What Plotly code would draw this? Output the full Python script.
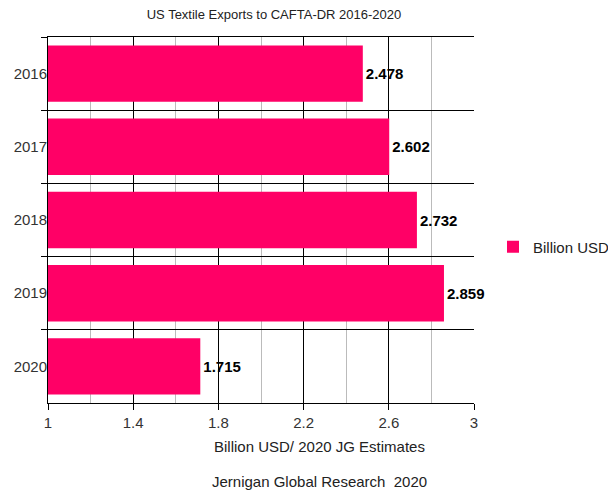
import plotly.graph_objects as go

years = ["2016", "2017", "2018", "2019", "2020"]
exports = [2.478, 2.602, 2.732, 2.859, 1.715]
x_ticks = [1, 1.4, 1.8, 2.2, 2.6, 3]

W, H = 608, 490
L, R, T, B = 48, 134, 37, 87
FONT = "Liberation Sans, Arial, sans-serif"

fig = go.Figure(
    go.Bar(
        y=years,
        x=exports,
        orientation="h",
        name="Billion USD",
        marker=dict(color="#FF0066", line=dict(width=0)),
        width=0.77,
        text=exports,
        texttemplate="<b>%{x}</b>",
        textposition="outside",
        textfont=dict(family=FONT, size=15, color="#000000"),
        cliponaxis=False,
    )
)

fig.update_layout(
    width=W,
    height=H,
    margin=dict(l=L, r=R, t=T, b=B, autoexpand=False),
    paper_bgcolor="white",
    plot_bgcolor="white",
    font=dict(family=FONT, size=15, color="#333333"),
    title=dict(
        text="US Textile Exports to CAFTA-DR 2016-2020",
        x=274 / W,
        xanchor="center",
        xref="container",
        y=1 - 14 / H,
        yanchor="middle",
        yref="container",
        font=dict(size=13, color="#222222"),
    ),
    showlegend=True,
    legend=dict(
        x=(493 - L) / (W - L - R),
        xanchor="left",
        y=(H - B - 247) / (H - T - B),
        yanchor="middle",
        font=dict(size=15, color="#222222"),
        bgcolor="rgba(0,0,0,0)",
        borderwidth=0,
    ),
    xaxis=dict(
        range=[1, 3],
        tickmode="array",
        tickvals=x_ticks,
        ticktext=[f"{v:g}" for v in x_ticks],
        showgrid=True,
        gridcolor="#000000",
        gridwidth=1,
        zeroline=False,
        showline=True,
        linecolor="#000000",
        linewidth=1,
        mirror=True,
        ticks="outside",
        ticklen=6,
        tickcolor="#000000",
        minor=dict(
            tickmode="linear",
            tick0=1,
            dtick=0.2,
            showgrid=True,
            gridcolor="#BBBBBB",
            gridwidth=1,
        ),
        tickfont=dict(size=15, color="#333333"),
    ),
    yaxis=dict(
        type="category",
        categoryorder="array",
        categoryarray=years,
        autorange="reversed",
        tickson="boundaries",
        showgrid=True,
        gridcolor="#000000",
        gridwidth=1,
        showline=True,
        linecolor="#000000",
        linewidth=1,
        ticks="outside",
        ticklen=6,
        tickcolor="#000000",
        ticklabelstandoff=-3,
        tickfont=dict(size=15, color="#333333"),
    ),
    annotations=[
        dict(
            text="Billion USD/ 2020 JG Estimates",
            xref="paper",
            yref="paper",
            x=(319 - L) / (W - L - R),
            y=(H - B - 447) / (H - T - B),
            xanchor="center",
            yanchor="middle",
            showarrow=False,
            font=dict(size=15, color="#222222"),
        ),
        dict(
            text="Jernigan Global Research  2020",
            xref="paper",
            yref="paper",
            x=(319 - L) / (W - L - R),
            y=(H - B - 482) / (H - T - B),
            xanchor="center",
            yanchor="middle",
            showarrow=False,
            font=dict(size=15, color="#222222"),
        ),
    ],
)

fig.write_html("out.html")
